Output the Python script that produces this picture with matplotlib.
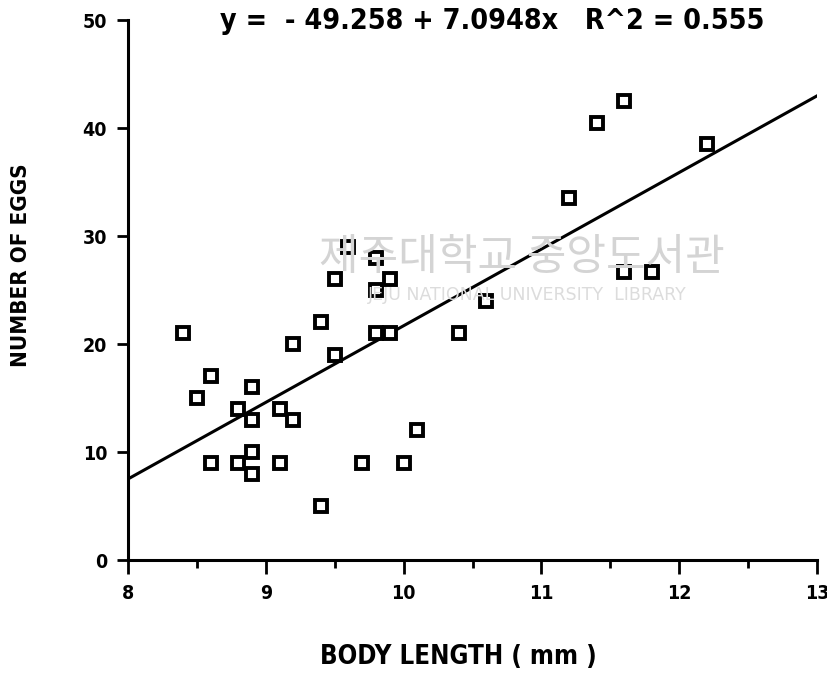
import matplotlib
matplotlib.use("Agg")
import matplotlib.pyplot as plt
import numpy as np
from matplotlib.ticker import MultipleLocator
from matplotlib import font_manager as fm

body_length = [8.4, 8.5, 8.6, 8.6, 8.8, 8.8, 8.9, 8.9, 8.9, 8.9,
               9.1, 9.1, 9.2, 9.2, 9.4, 9.4, 9.5, 9.5, 9.6, 9.8,
               9.8, 9.8, 9.9, 9.9, 9.7, 10.0, 10.1, 10.4, 10.6, 11.2,
               11.4, 11.6, 11.6, 11.8, 12.2]
num_eggs = [21, 15, 17, 9, 14, 9, 16, 13, 10, 8,
            14, 9, 13, 20, 22, 5, 26, 19, 29, 28,
            25, 21, 26, 21, 9, 9, 12, 21, 24, 33.5,
            40.5, 42.5, 26.7, 26.7, 38.5]
intercept = -49.258
slope = 7.0948
r2 = 0.555

cond = [f for f in fm.fontManager.ttflist
        if "Condensed" in f.fname and "Bold" in f.fname and "Oblique" not in f.fname]

def fp(size):
    if cond:
        return fm.FontProperties(fname=cond[0].fname, size=size)
    return fm.FontProperties(family="DejaVu Sans", weight="bold", size=size)

fig = plt.figure(figsize=(8.28, 6.73), dpi=100)
ax = fig.add_axes([128/828, 1-560/673, (817-128)/828, (560-20)/673])

fig.text(522/828, 1-258/673, "제주대학교 중앙도서관", fontsize=31,
         family=["Noto Sans CJK KR", "DejaVu Sans"], color="#d4d4d4",
         ha="center", va="center", zorder=0)
fig.text(527/828, 1-295/673, "JEJU NATIONAL UNIVERSITY  LIBRARY", fontsize=12.5,
         family=["DejaVu Sans"], color="#dcdcdc", ha="center", va="center", zorder=0)

xs = np.array([8, 13])
ax.plot(xs, intercept + slope * xs, color="black", lw=2.2, zorder=2)
ax.plot(body_length, num_eggs, linestyle="none", marker="s", markersize=8.5,
        markerfacecolor="white", markeredgecolor="black", markeredgewidth=2.8, zorder=3)

ax.set_xlim(8, 13)
ax.set_ylim(0, 50)
ax.xaxis.set_major_locator(MultipleLocator(1))
ax.xaxis.set_minor_locator(MultipleLocator(0.5))
ax.yaxis.set_major_locator(MultipleLocator(10))
for s in ["top", "right"]:
    ax.spines[s].set_visible(False)
for s in ["left", "bottom"]:
    ax.spines[s].set_linewidth(2.2)
ax.patch.set_alpha(0)
ax.tick_params(axis="x", which="major", direction="out", length=10, width=2, pad=7)
ax.tick_params(axis="x", which="minor", direction="out", length=6, width=2)
ax.tick_params(axis="y", which="major", direction="out", length=8, width=2, pad=7)
for lab in ax.get_xticklabels() + ax.get_yticklabels():
    lab.set_fontproperties(fp(14))

fig.text(492/828, 1-21/673, "y =  - 49.258 + 7.0948x   R^2 = 0.555",
         fontproperties=fp(20.5), ha="center", va="center")
fig.text(458/828, 1-657/673, "BODY LENGTH ( mm )", fontproperties=fp(18.5),
         ha="center", va="center")
fig.text(21/828, 1-265/673, "NUMBER OF EGGS", fontproperties=fp(16), rotation=90,
         ha="center", va="center")

fig.savefig("out.png", dpi=100)
